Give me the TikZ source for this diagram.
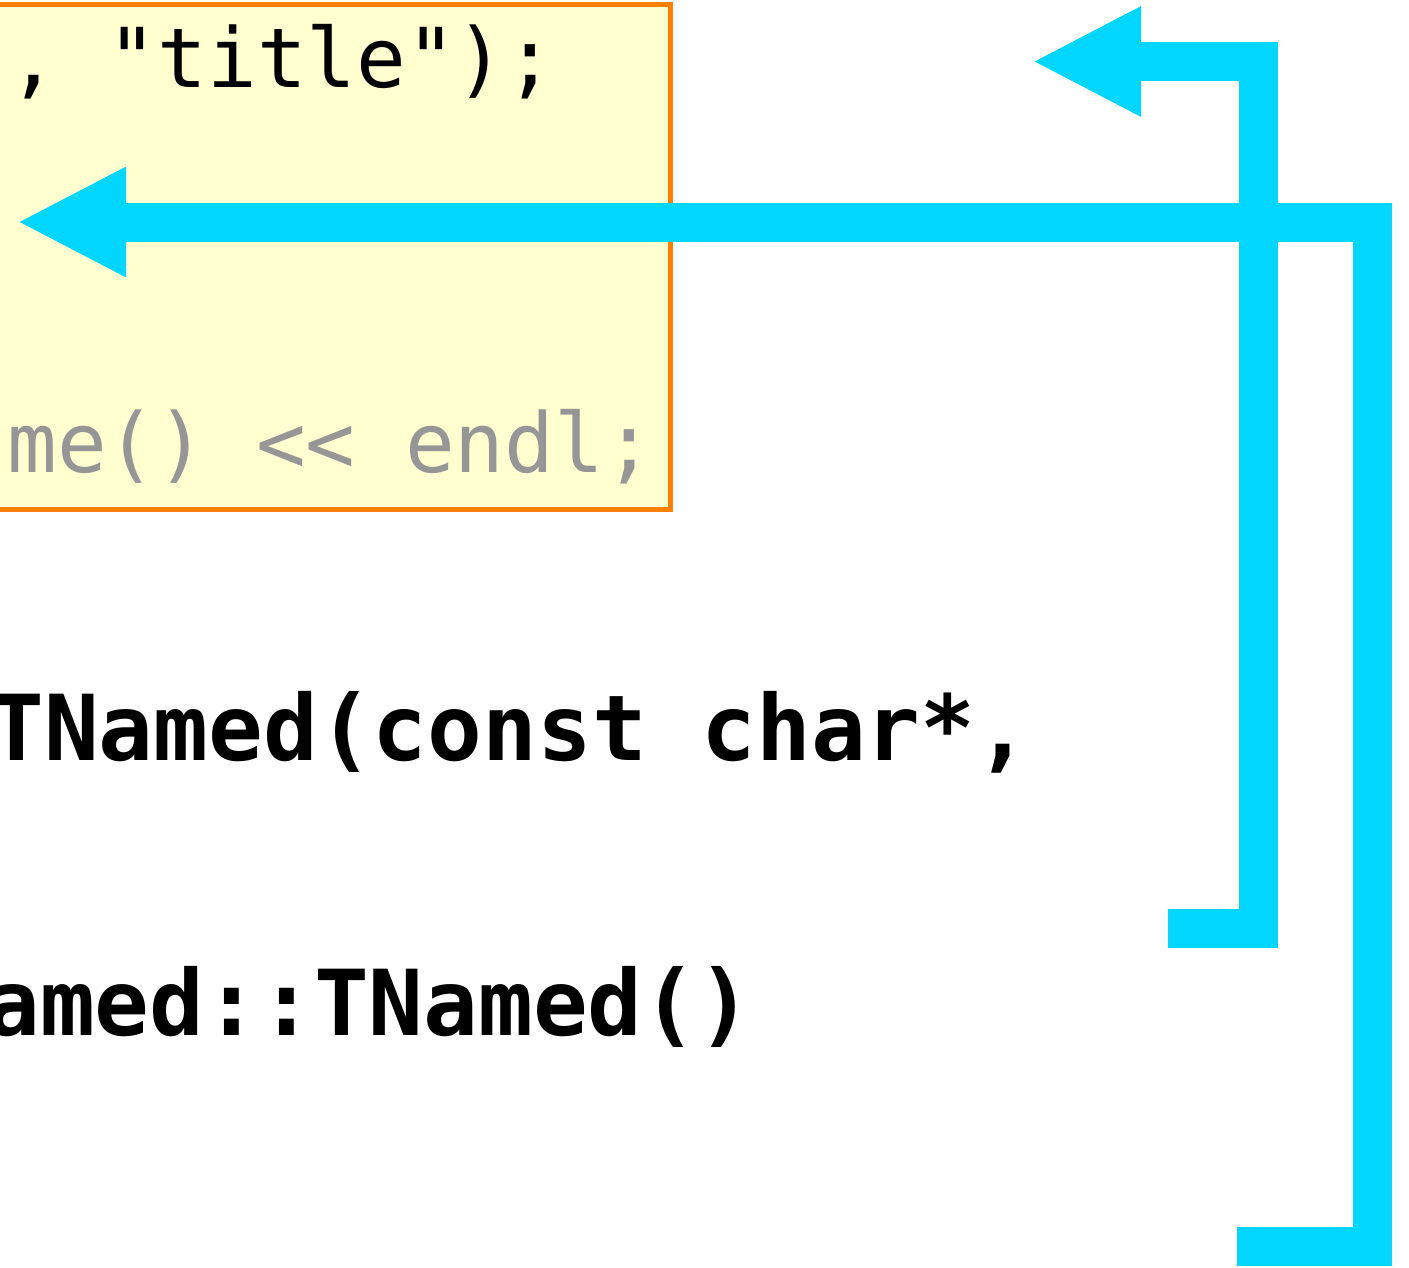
\documentclass[tikz,border=0pt]{standalone}
\usepackage{fontspec}
\setmonofont{DejaVu Sans Mono}
\usetikzlibrary{arrows.meta}
\definecolor{flowcyan}{RGB}{0,214,255}
\definecolor{boxfill}{RGB}{255,255,208}
\definecolor{boxedge}{RGB}{255,128,0}
\definecolor{codegray}{RGB}{150,150,150}
\tikzset{
  codebox/.style={draw=boxedge, fill=boxfill, line width=2.5pt},
  codeline/.style={inner sep=0pt, anchor=base west, font=\ttfamily\fontsize{41.3pt}{49pt}\selectfont},
  boldline/.style={inner sep=0pt, anchor=base west, font=\ttfamily\bfseries\fontsize{45.5pt}{54pt}\selectfont},
  flow/.style={draw=flowcyan, line width=19.5pt, line join=miter, line cap=butt,
    -{Triangle[length=54.5pt, width=51pt]}}
}
\begin{document}
\begin{tikzpicture}[x=0.5pt, y=-0.5pt]
\clip (0,0) rectangle (1409,1268);
\useasboundingbox (0,0) rectangle (1409,1268);
\fill[white] (0,0) rectangle (1409,1268);
% code box
\draw[codebox] (-20,5) rectangle (670.5,509.5);
\node[codeline] (l1) at (8,88) {, "title");};
\node[codeline, text=codegray] (l2) at (7,472) {me() << endl;};
\node[boldline] (l3) at (-11,760) {TNamed(const char*,};
\node[boldline] (l4) at (-15,1035) {amed::TNamed()};
% arrow 1
\coordinate (a1s) at (1168,928.5);
\coordinate (a1b) at (1258,928.5);
\coordinate (a1c) at (1258,61.5);
\coordinate (a1t) at (1032,61.5);
\draw[flow] (a1s) -- (a1b) -- (a1c) -- (a1t);
% arrow 2
\coordinate (a2s) at (1237,1246);
\coordinate (a2b) at (1372.5,1246);
\coordinate (a2c) at (1372.5,222);
\coordinate (a2t) at (17,222);
\draw[flow] (a2s) -- (a2b) -- (a2c) -- (a2t);
\end{tikzpicture}
\end{document}
